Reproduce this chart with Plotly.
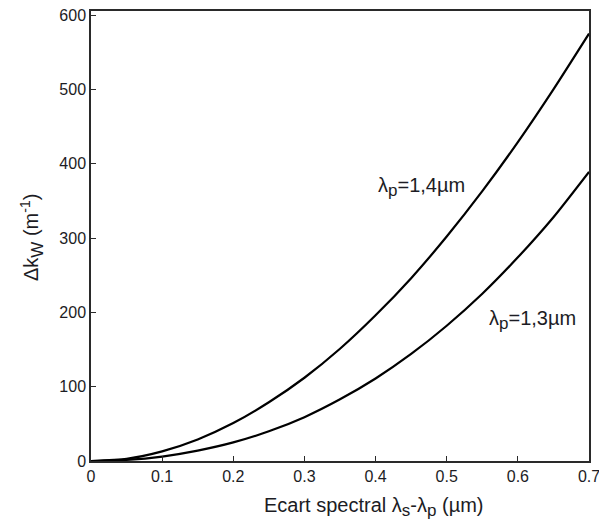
import plotly.graph_objects as go

# Spectral offset λs-λp (µm)
ecart = [0.0, 0.05, 0.10, 0.15, 0.20, 0.25, 0.30, 0.35, 0.40, 0.45, 0.50, 0.55, 0.60, 0.65, 0.70]

# Phase mismatch Δk_W (m^-1) for two pump wavelengths
dk_14 = [0, 3, 13, 29, 51, 79, 112, 151, 196, 246, 302, 363, 429, 500, 575]
dk_13 = [0, 1.5, 6, 14, 25, 40, 59, 83, 111, 144, 182, 225, 274, 328, 389]

x_ticks = [0, 0.1, 0.2, 0.3, 0.4, 0.5, 0.6, 0.7]
x_tick_labels = ["0", "0.1", "0.2", "0.3", "0.4", "0.5", "0.6", "0.7"]
y_ticks = [0, 100, 200, 300, 400, 500, 600]

FONT = "Arial, Liberation Sans, sans-serif"
TXT = "#1c1c24"


def sub(s):
    # near full-size subscript, as in the TeX-style labels
    return f"<sub><span style='font-size:17px'>{s}</span></sub>"


fig = go.Figure()
for ys in (dk_14, dk_13):
    fig.add_trace(go.Scatter(
        x=ecart, y=ys, mode="lines",
        line=dict(color="black", width=2.2, shape="spline", smoothing=0.6),
        showlegend=False, hoverinfo="skip",
    ))

axis_common = dict(
    showgrid=False, zeroline=False, showline=True, linecolor="#2a2a2a",
    linewidth=1.5, mirror=True, ticks="inside", ticklen=5, tickwidth=1.2,
    tickcolor="#2a2a2a", tickfont=dict(family=FONT, size=16, color=TXT),
    automargin=False, ticklabeloverflow="allow",
)

fig.update_xaxes(range=[0, 0.7], tickvals=x_ticks, ticktext=x_tick_labels, **axis_common)
fig.update_yaxes(range=[0, 605.4], tickvals=y_ticks, **axis_common)

fig.add_annotation(
    x=0.4, y=368, xref="x", yref="y", xanchor="left", yanchor="middle",
    text="λ" + sub("p") + "=1,4µm", showarrow=False,
    font=dict(family=FONT, size=20, color=TXT),
)
fig.add_annotation(
    x=0.557, y=190, xref="x", yref="y", xanchor="left", yanchor="middle",
    text="λ" + sub("p") + "=1,3µm", showarrow=False,
    font=dict(family=FONT, size=20, color=TXT),
)

# Axis titles (placed in domain coordinates around the plot frame)
fig.add_annotation(
    x=(374 - 91) / 498, y=-46 / 450, xref="x domain", yref="y domain",
    showarrow=False, xanchor="center", yanchor="middle",
    text="Ecart spectral λ" + sub("s") + "-λ" + sub("p") + " (µm)",
    font=dict(family=FONT, size=20, color=TXT),
)
fig.add_annotation(
    x=(32 - 91) / 498, y=(461 - 238) / 450, xref="x domain", yref="y domain",
    showarrow=False, textangle=-90, xanchor="center", yanchor="middle",
    text="Δk" + sub("W") + " (m<sup>-1</sup>)",
    font=dict(family=FONT, size=20, color=TXT),
)

fig.update_layout(
    width=599, height=521,
    margin=dict(l=91, r=10, t=11, b=60, autoexpand=False),
    paper_bgcolor="white", plot_bgcolor="white",
)

fig.write_html("out.html")
